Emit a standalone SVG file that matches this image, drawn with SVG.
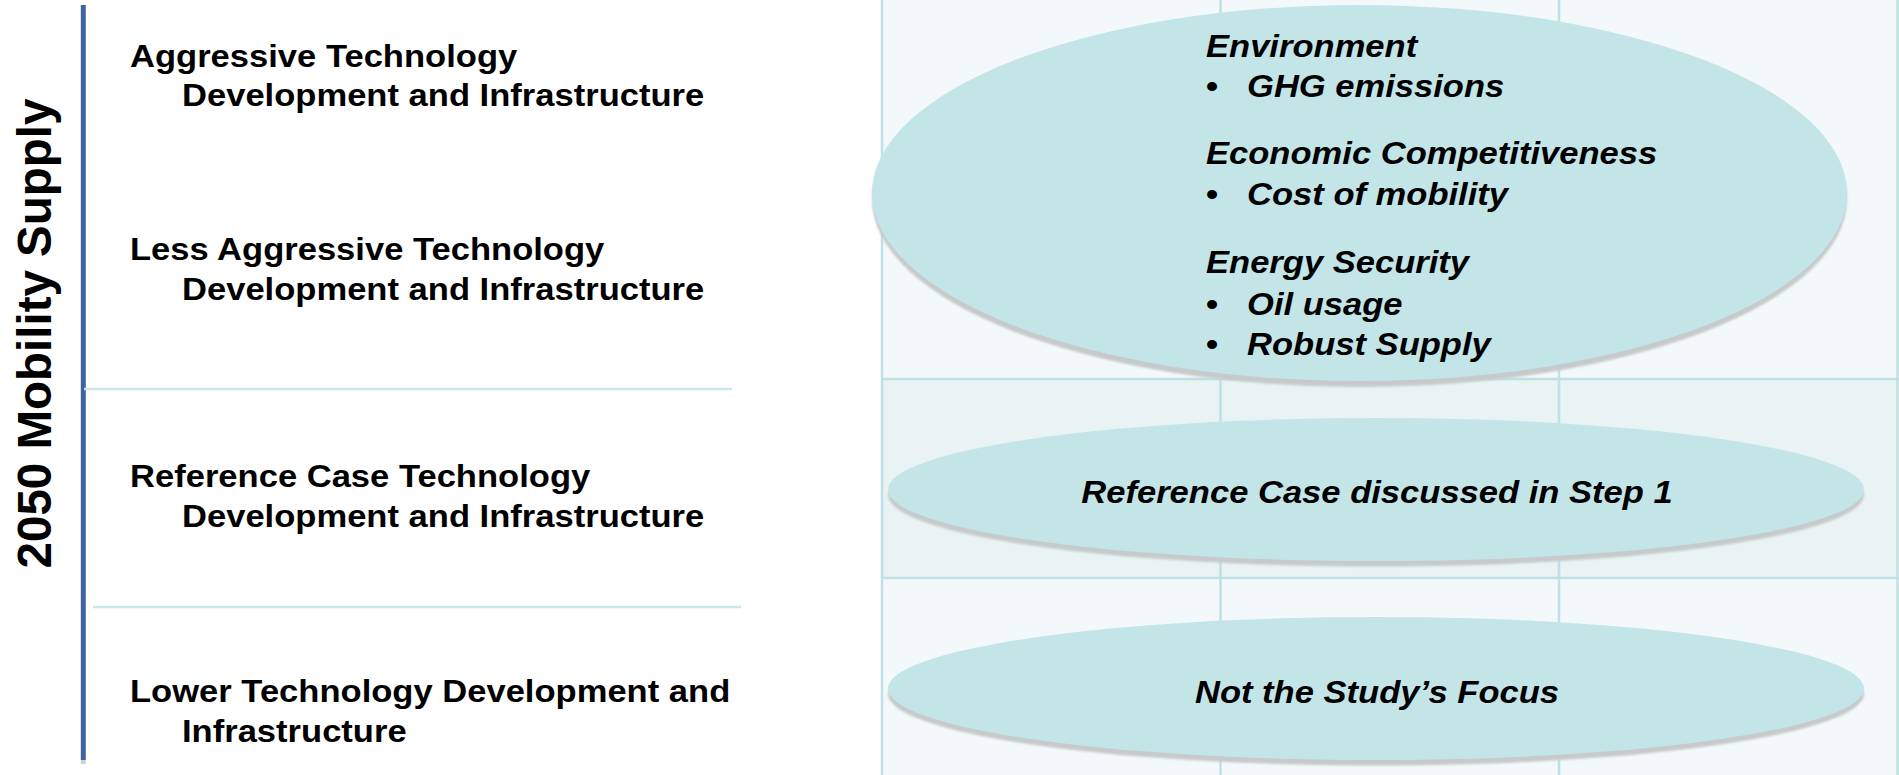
<svg xmlns="http://www.w3.org/2000/svg" width="1899" height="775" viewBox="0 0 1899 775">
  <defs>
    <style>
      .lbl { font-family: "Liberation Sans", Arial, sans-serif; font-weight: bold; font-size: 32px; fill: #000; }
      .it { font-style: italic; }
      .axis-title { font-family: "Liberation Sans", Arial, sans-serif; font-weight: bold; font-size: 47.5px; fill: #000; }
      .gridline { stroke: #BFE0E4; stroke-width: 2.5; fill: none; }
      .divider { stroke: #C9E6EA; stroke-width: 2.5; fill: none; }
      .oval { fill: #C4E5E8; }
      .shadow { fill: #C6CACB; }
    </style>
    <filter id="soft" x="-5%" y="-10%" width="110%" height="120%">
      <feGaussianBlur stdDeviation="1.2"/>
    </filter>
  </defs>

  <rect x="0" y="0" width="1899" height="775" fill="#FFFFFF"/>

  <!-- Right-hand grid background -->
  <g id="grid">
    <rect x="882" y="0" width="1016" height="379" fill="#F3F9FA"/>
    <rect x="882" y="379" width="1016" height="199" fill="#E9F3F4"/>
    <rect x="882" y="578" width="1016" height="197" fill="#F3F9FA"/>
    <line class="gridline" x1="882" y1="0" x2="882" y2="775"/>
    <line class="gridline" x1="1220.5" y1="0" x2="1220.5" y2="775"/>
    <line class="gridline" x1="1559" y1="0" x2="1559" y2="775"/>
    <line class="gridline" x1="1897.5" y1="0" x2="1897.5" y2="775"/>
    <line class="gridline" x1="882" y1="379" x2="1899" y2="379"/>
    <line class="gridline" x1="882" y1="578" x2="1899" y2="578"/>
  </g>

  <!-- Axis and row dividers -->
  <g id="connectors">
    <line x1="83.3" y1="5" x2="83.3" y2="760" stroke="#3F62A0" stroke-width="5"/>
    <line x1="83.3" y1="760" x2="83.3" y2="764" stroke="#D0D0D0" stroke-width="5"/>
    <line class="divider" x1="84" y1="389" x2="732" y2="389"/>
    <line class="divider" x1="93" y1="607" x2="741" y2="607"/>
  </g>

  <g id="axis-title">
    <text class="axis-title" transform="translate(51,333.5) rotate(-90)" text-anchor="middle" x="0" y="0">2050 Mobility Supply</text>
  </g>

  <g id="row-aggressive">
    <text class="lbl" transform="translate(130,67) scale(1.08,1)">Aggressive Technology</text>
    <text class="lbl" transform="translate(182,106) scale(1.08,1)">Development and Infrastructure</text>
  </g>
  <g id="row-less-aggressive">
    <text class="lbl" transform="translate(130,260) scale(1.08,1)">Less Aggressive Technology</text>
    <text class="lbl" transform="translate(182,300) scale(1.08,1)">Development and Infrastructure</text>
  </g>
  <g id="row-reference">
    <text class="lbl" transform="translate(130,487) scale(1.08,1)">Reference Case Technology</text>
    <text class="lbl" transform="translate(182,527) scale(1.08,1)">Development and Infrastructure</text>
  </g>
  <g id="row-lower">
    <text class="lbl" transform="translate(130,702) scale(1.08,1)">Lower Technology Development and</text>
    <text class="lbl" transform="translate(182,742) scale(1.08,1)">Infrastructure</text>
  </g>

  <!-- Big ellipse: metrics -->
  <g id="oval-metrics">
    <ellipse class="shadow" cx="1359.5" cy="199" rx="487.5" ry="188" filter="url(#soft)"/>
    <ellipse class="oval" cx="1359.5" cy="193" rx="487.5" ry="188"/>
    <text class="lbl it" transform="translate(1206,57) scale(1.08,1)">Environment</text>
    <text class="lbl" transform="translate(1206,97) scale(1.08,1)">•</text>
    <text class="lbl it" transform="translate(1247,97) scale(1.08,1)">GHG emissions</text>
    <text class="lbl it" transform="translate(1206,164) scale(1.08,1)">Economic Competitiveness</text>
    <text class="lbl" transform="translate(1206,205) scale(1.08,1)">•</text>
    <text class="lbl it" transform="translate(1247,205) scale(1.08,1)">Cost of mobility</text>
    <text class="lbl it" transform="translate(1206,273) scale(1.08,1)">Energy Security</text>
    <text class="lbl" transform="translate(1206,315) scale(1.08,1)">•</text>
    <text class="lbl it" transform="translate(1247,315) scale(1.08,1)">Oil usage</text>
    <text class="lbl" transform="translate(1206,355) scale(1.08,1)">•</text>
    <text class="lbl it" transform="translate(1247,355) scale(1.08,1)">Robust Supply</text>
  </g>

  <g id="oval-reference">
    <ellipse class="shadow" cx="1376" cy="495" rx="488" ry="71.5" filter="url(#soft)"/>
    <ellipse class="oval" cx="1376" cy="489.5" rx="488" ry="71.5"/>
    <text class="lbl it" text-anchor="middle" transform="translate(1377,503) scale(1.08,1)">Reference Case discussed in Step 1</text>
  </g>

  <g id="oval-not-focus">
    <ellipse class="shadow" cx="1376" cy="694" rx="488" ry="71.5" filter="url(#soft)"/>
    <ellipse class="oval" cx="1376" cy="688.5" rx="488" ry="71.5"/>
    <text class="lbl it" text-anchor="middle" transform="translate(1377,703) scale(1.08,1)">Not the Study’s Focus</text>
  </g>
</svg>
